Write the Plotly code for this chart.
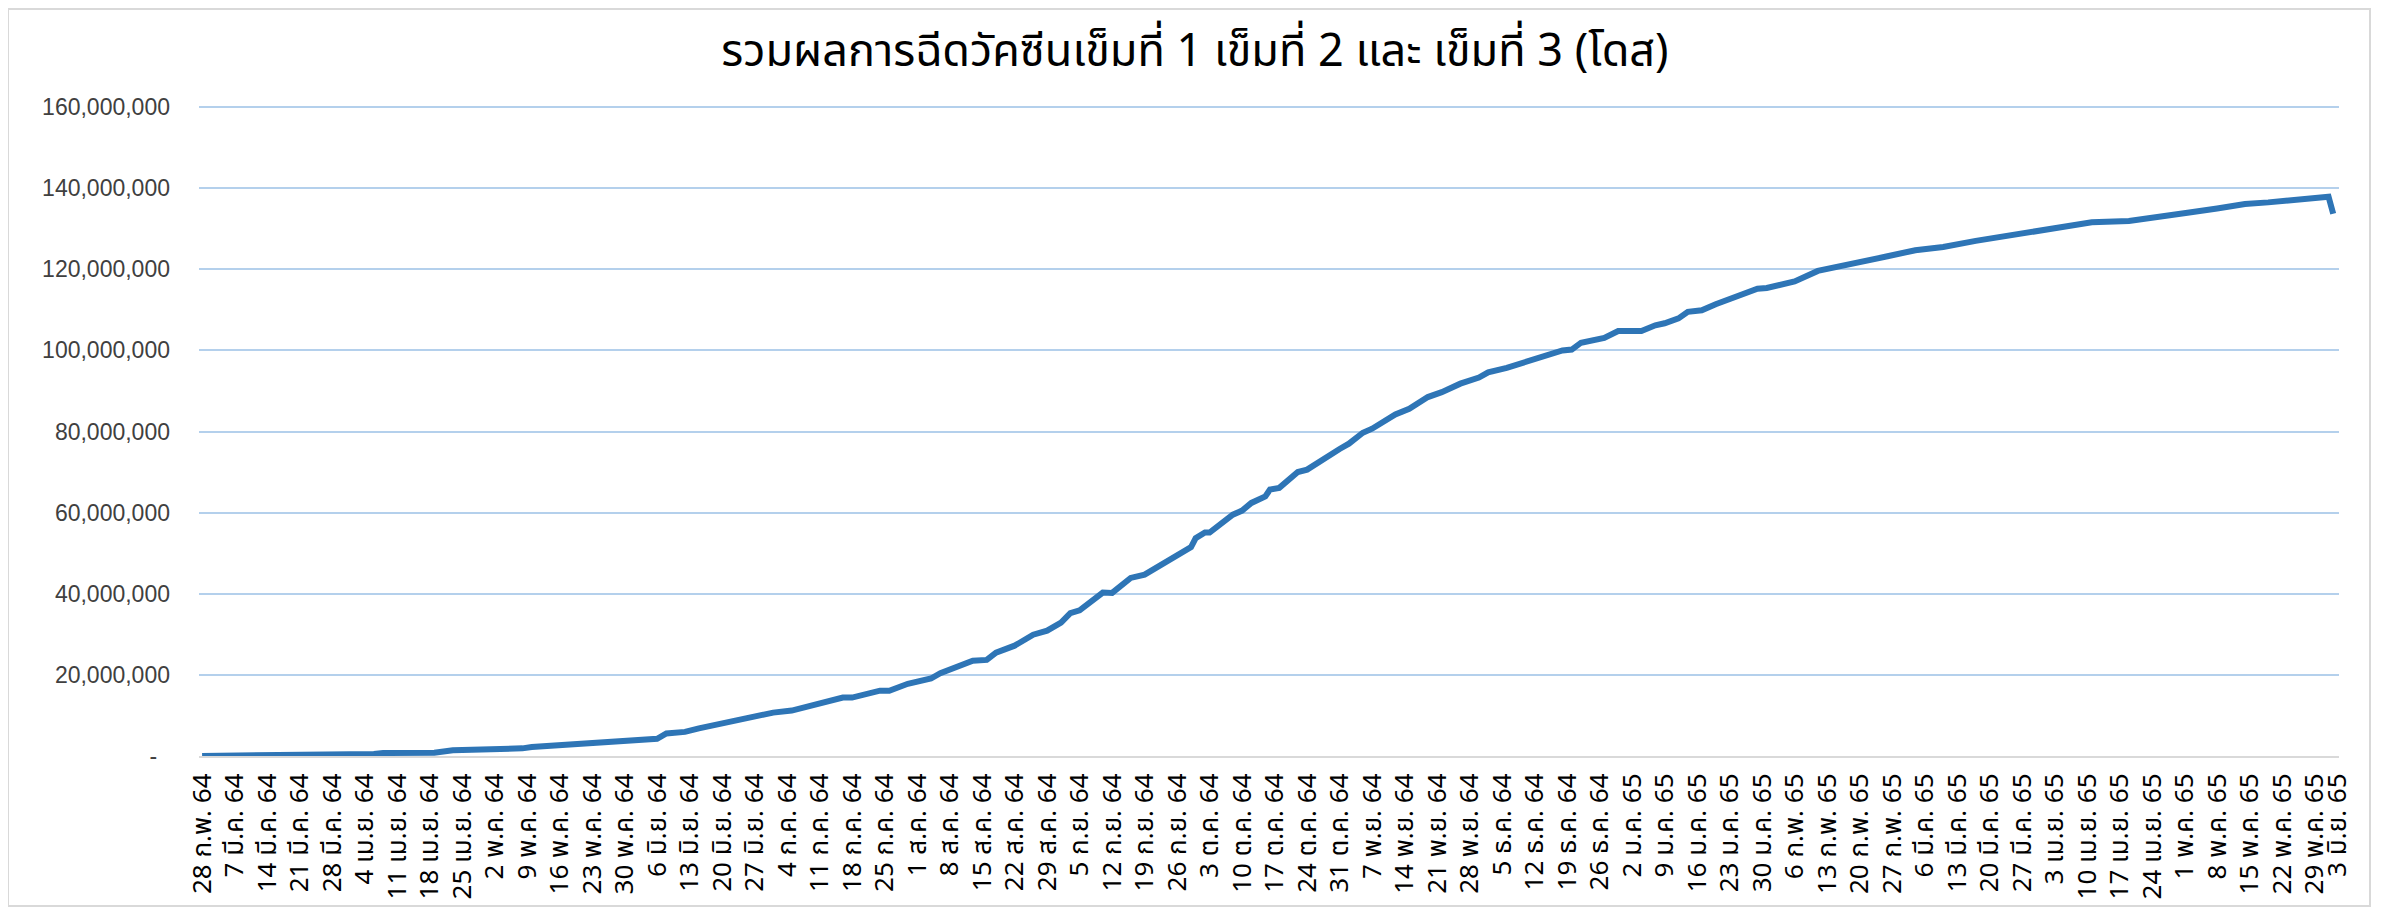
import pandas as pd
import plotly.graph_objects as go

title_text = "รวมผลการฉีดวัคซีนเข็มที่ 1 เข็มที่ 2 และ เข็มที่ 3 (โดส)"

# cumulative doses (date, doses)
dates = [
    "2021-02-28", "2021-03-20", "2021-03-22", "2021-04-06", "2021-04-08", "2021-04-19",
    "2021-04-23", "2021-04-29", "2021-04-30", "2021-05-08", "2021-05-10", "2021-05-13",
    "2021-05-17", "2021-05-21", "2021-05-25", "2021-05-28", "2021-06-02", "2021-06-06",
    "2021-06-08", "2021-06-12", "2021-06-15", "2021-06-18", "2021-06-22", "2021-06-25",
    "2021-07-01", "2021-07-05", "2021-07-10", "2021-07-16", "2021-07-18", "2021-07-24",
    "2021-07-26", "2021-07-30", "2021-08-04", "2021-08-06", "2021-08-13", "2021-08-16",
    "2021-08-18", "2021-08-22", "2021-08-26", "2021-08-29", "2021-09-01", "2021-09-03",
    "2021-09-05", "2021-09-09", "2021-09-10", "2021-09-12", "2021-09-16", "2021-09-19",
    "2021-09-24", "2021-09-27", "2021-09-29", "2021-09-30", "2021-10-02", "2021-10-03",
    "2021-10-06", "2021-10-08", "2021-10-10", "2021-10-12", "2021-10-15", "2021-10-16",
    "2021-10-18", "2021-10-20", "2021-10-22", "2021-10-24", "2021-10-26", "2021-10-29",
    "2021-10-31", "2021-11-02", "2021-11-05", "2021-11-07", "2021-11-09", "2021-11-12",
    "2021-11-15", "2021-11-19", "2021-11-22", "2021-11-26", "2021-11-30", "2021-12-02",
    "2021-12-06", "2021-12-10", "2021-12-12", "2021-12-15", "2021-12-18", "2021-12-20",
    "2021-12-22", "2021-12-27", "2021-12-30", "2022-01-04", "2022-01-07", "2022-01-09",
    "2022-01-12", "2022-01-14", "2022-01-17", "2022-01-20", "2022-01-22", "2022-01-24",
    "2022-01-29", "2022-01-31", "2022-02-05", "2022-02-06", "2022-02-11", "2022-02-16",
    "2022-02-20", "2022-02-26", "2022-03-04", "2022-03-10", "2022-03-17", "2022-03-22",
    "2022-03-27", "2022-04-02", "2022-04-06", "2022-04-11", "2022-04-19", "2022-04-25",
    "2022-05-02", "2022-05-08", "2022-05-14", "2022-05-19", "2022-05-25", "2022-06-01",
    "2022-06-02",
]
doses = [
    30000, 160000, 400000, 500000, 730000, 820000,
    1390000, 1470000, 1800000, 1880000, 2200000, 2450000,
    2600000, 3000000, 3200000, 3600000, 3900000, 4250000,
    5550000, 5950000, 6800000, 7600000, 8400000, 9300000,
    10700000, 11200000, 12600000, 14400000, 14400000, 16100000,
    16100000, 17800000, 19100000, 20400000, 23500000, 23700000,
    25500000, 27200000, 29900000, 30900000, 32900000, 35200000,
    35900000, 39200000, 40300000, 40200000, 43900000, 44700000,
    48000000, 50400000, 51500000, 53700000, 55100000, 55100000,
    57500000, 59500000, 60500000, 62400000, 64000000, 65700000,
    66100000, 68300000, 70000000, 70600000, 72100000, 74600000,
    75700000, 77000000, 79700000, 80700000, 82100000, 84200000,
    85600000, 88500000, 89700000, 91800000, 93300000, 94600000,
    95700000, 97100000, 97600000, 98800000, 100000000, 100200000,
    101900000, 103100000, 104800000, 104800000, 106200000, 106700000,
    107900000, 109500000, 109900000, 111400000, 112200000, 112900000,
    115200000, 115400000, 116900000, 117000000, 119600000, 120700000,
    121800000, 123200000, 124700000, 125500000, 127000000, 127900000,
    129000000, 130100000, 130900000, 131600000, 131900000, 133000000,
    134000000, 135000000, 136100000, 136500000, 137300000, 137900000,
    133700000,
]

tick_labels = [
    "28 ก.พ. 64", "7 มี.ค. 64", "14 มี.ค. 64", "21 มี.ค. 64", "28 มี.ค. 64", "4 เม.ย. 64",
    "11 เม.ย. 64", "18 เม.ย. 64", "25 เม.ย. 64", "2 พ.ค. 64", "9 พ.ค. 64", "16 พ.ค. 64",
    "23 พ.ค. 64", "30 พ.ค. 64", "6 มิ.ย. 64", "13 มิ.ย. 64", "20 มิ.ย. 64", "27 มิ.ย. 64",
    "4 ก.ค. 64", "11 ก.ค. 64", "18 ก.ค. 64", "25 ก.ค. 64", "1 ส.ค. 64", "8 ส.ค. 64",
    "15 ส.ค. 64", "22 ส.ค. 64", "29 ส.ค. 64", "5 ก.ย. 64", "12 ก.ย. 64", "19 ก.ย. 64",
    "26 ก.ย. 64", "3 ต.ค. 64", "10 ต.ค. 64", "17 ต.ค. 64", "24 ต.ค. 64", "31 ต.ค. 64",
    "7 พ.ย. 64", "14 พ.ย. 64", "21 พ.ย. 64", "28 พ.ย. 64", "5 ธ.ค. 64", "12 ธ.ค. 64",
    "19 ธ.ค. 64", "26 ธ.ค. 64", "2 ม.ค. 65", "9 ม.ค. 65", "16 ม.ค. 65", "23 ม.ค. 65",
    "30 ม.ค. 65", "6 ก.พ. 65", "13 ก.พ. 65", "20 ก.พ. 65", "27 ก.พ. 65", "6 มี.ค. 65",
    "13 มี.ค. 65", "20 มี.ค. 65", "27 มี.ค. 65", "3 เม.ย. 65", "10 เม.ย. 65", "17 เม.ย. 65",
    "24 เม.ย. 65", "1 พ.ค. 65", "8 พ.ค. 65", "15 พ.ค. 65", "22 พ.ค. 65", "29 พ.ค. 65",
    "3 มิ.ย. 65",
]
tick_dates = list(pd.date_range("2021-02-28", "2022-05-29", freq="7D").strftime("%Y-%m-%d")) + ["2022-06-03"]

y_ticks = [0, 20000000, 40000000, 60000000, 80000000, 100000000, 120000000, 140000000, 160000000]
y_labels = ["-\u00a0\u00a0"] + [f"{v:,}" for v in y_ticks[1:]]

# page body adds an 8px margin, so the figure is 8px smaller and offset
OFF = 8
W, H = 2382 - OFF, 911 - OFF
L, R, T, B = 199 - OFF, 2382 - 2339, 103 - OFF, 911 - 756
PW, PH = W - L - R, H - T - B

thai_font = "Noto Sans Thai, Noto Sans Thai UI, Leelawadee UI, Tahoma, Loma, Garuda, Noto Sans, sans-serif"

fig = go.Figure()
fig.add_trace(go.Scatter(
    x=dates, y=doses, mode="lines",
    line=dict(color="#2e75b6", width=6),
    hoverinfo="x+y",
))


def px(xw):
    return (xw - OFF - L) / PW


def py(yw):
    return 1 - (yw - OFF - T) / PH


fig.update_layout(
    width=W, height=H,
    paper_bgcolor="white", plot_bgcolor="white",
    margin=dict(l=L, r=R, t=T, b=B, autoexpand=False),
    showlegend=False,
    title=dict(
        text=title_text, x=0.5, xanchor="center", y=1 - (50 - OFF) / H, yanchor="middle",
        font=dict(family=thai_font, size=45, color="#000000"),
    ),
    xaxis=dict(
        type="date",
        range=["2021-02-27 08:00", "2022-06-03 06:00"],
        tickmode="array", tickvals=tick_dates, ticktext=tick_labels,
        tickangle=-90,
        tickfont=dict(family=thai_font, size=26, color="#000000"),
        showgrid=False, zeroline=False,
        showline=True, linecolor="#d9d9d9", linewidth=2,
        ticks="", ticklabelstandoff=5,
    ),
    yaxis=dict(
        range=[0, 161000000],
        tickmode="array", tickvals=y_ticks, ticktext=y_labels,
        tickfont=dict(family="Liberation Sans, Arial, sans-serif", size=23, color="#404040"),
        showgrid=True, gridcolor="#b4d0ec", gridwidth=1.5,
        zeroline=False, showline=False, ticks="",
        ticklabelstandoff=28,
    ),
    shapes=[dict(
        type="rect", xref="paper", yref="paper",
        x0=px(8), x1=px(2370), y0=py(906), y1=py(9),
        line=dict(color="#d9d9d9", width=2), fillcolor="rgba(0,0,0,0)", layer="below",
    )],
)

fig.write_html("out.html")
